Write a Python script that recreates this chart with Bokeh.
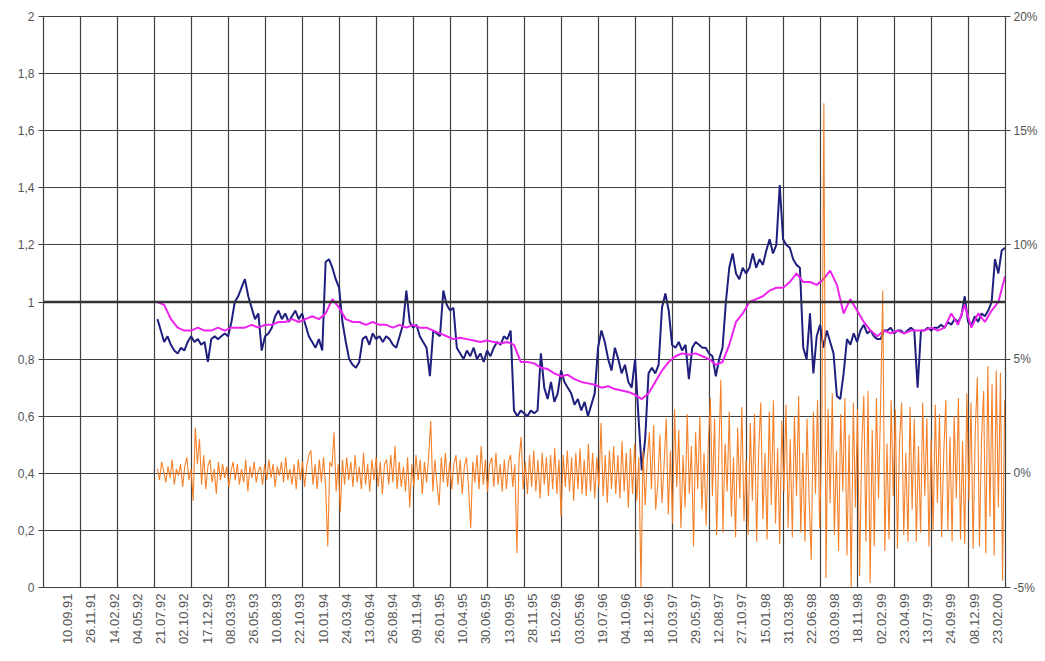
import numpy as np
from bokeh.plotting import figure
from bokeh.models import Range1d, LinearAxis, FixedTicker, Span
from bokeh.embed import file_html
from bokeh.resources import INLINE

# ---- data -------------------------------------------------------------
date_labels = ["10.09.91", "26.11.91", "14.02.92", "04.05.92", "21.07.92", "02.10.92",
               "17.12.92", "08.03.93", "26.05.93", "10.08.93", "22.10.93", "10.01.94",
               "24.03.94", "13.06.94", "26.08.94", "09.11.94", "26.01.95", "10.04.95",
               "30.06.95", "13.09.95", "28.11.95", "15.02.96", "03.05.96", "19.07.96",
               "04.10.96", "18.12.96", "10.03.97", "29.05.97", "12.08.97", "27.10.97",
               "15.01.98", "31.03.98", "22.06.98", "03.09.98", "18.11.98", "02.02.99",
               "23.04.99", "13.07.99", "24.09.99", "08.12.99", "23.02.00"]

# ratio series (left axis), one value every 8 trading days
blue = [0.94, 0.90, 0.86, 0.88, 0.85, 0.83, 0.82, 0.84, 0.83, 0.86,
        0.88, 0.86, 0.87, 0.85, 0.86, 0.79, 0.87, 0.88, 0.87, 0.88,
        0.89, 0.88, 0.93, 1.00, 1.02, 1.05, 1.08, 1.02, 0.98, 0.94,
        0.96, 0.83, 0.88, 0.89, 0.91, 0.95, 0.97, 0.94, 0.96, 0.93,
        0.95, 0.97, 0.94, 0.96, 0.92, 0.88, 0.86, 0.84, 0.87, 0.83,
        1.14, 1.15, 1.12, 1.08, 1.05, 0.93, 0.86, 0.80, 0.78, 0.77,
        0.79, 0.87, 0.88, 0.85, 0.89, 0.87, 0.88, 0.86, 0.88, 0.87,
        0.85, 0.84, 0.88, 0.92, 1.04, 0.93, 0.91, 0.92, 0.88, 0.86,
        0.84, 0.74, 0.90, 0.89, 0.88, 1.04, 0.99, 0.97, 0.98, 0.84,
        0.82, 0.80, 0.83, 0.81, 0.84, 0.80, 0.82, 0.79, 0.83, 0.81,
        0.84, 0.86, 0.85, 0.88, 0.87, 0.90, 0.62, 0.60, 0.62, 0.61,
        0.60, 0.62, 0.61, 0.62, 0.82, 0.70, 0.66, 0.72, 0.65, 0.68,
        0.76, 0.72, 0.70, 0.68, 0.64, 0.66, 0.62, 0.65, 0.60, 0.64,
        0.68, 0.84, 0.90, 0.86, 0.80, 0.76, 0.84, 0.80, 0.75, 0.78,
        0.72, 0.70, 0.80, 0.60, 0.41, 0.52, 0.75, 0.77, 0.75, 0.78,
        0.98, 1.03, 0.97, 0.85, 0.84, 0.86, 0.83, 0.85, 0.73, 0.84,
        0.86, 0.85, 0.84, 0.84, 0.82, 0.81, 0.74, 0.80, 0.84, 1.00,
        1.12, 1.17, 1.10, 1.08, 1.12, 1.10, 1.12, 1.17, 1.12, 1.15,
        1.13, 1.18, 1.22, 1.17, 1.20, 1.41, 1.22, 1.20, 1.19, 1.15,
        1.13, 1.12, 0.84, 0.80, 0.96, 0.75, 0.88, 0.92, 0.84, 0.90,
        0.86, 0.82, 0.67, 0.66, 0.75, 0.87, 0.85, 0.89, 0.86, 0.90,
        0.92, 0.89, 0.90, 0.88, 0.87, 0.87, 0.90, 0.90, 0.91, 0.89,
        0.90, 0.90, 0.89, 0.90, 0.91, 0.90, 0.70, 0.90, 0.90, 0.91,
        0.90, 0.91, 0.91, 0.92, 0.91, 0.93, 0.92, 0.94, 0.93, 0.95,
        1.02, 0.93, 0.92, 0.95, 0.93, 0.96, 0.95, 0.97, 1.00, 1.15,
        1.10, 1.18, 1.19]

# smoothed series (left axis), one value every 16 trading days
magenta = [1.00, 0.99, 0.94, 0.91, 0.90, 0.90, 0.91, 0.90, 0.90, 0.91,
           0.90, 0.91, 0.91, 0.91, 0.92, 0.91, 0.92, 0.92, 0.93, 0.93,
           0.94, 0.93, 0.94, 0.95, 0.94, 0.96, 1.01, 0.98, 0.94, 0.93,
           0.93, 0.92, 0.93, 0.92, 0.92, 0.91, 0.92, 0.91, 0.92, 0.91,
           0.91, 0.90, 0.89, 0.88, 0.87, 0.875, 0.87, 0.865, 0.86, 0.865,
           0.86, 0.855, 0.86, 0.85, 0.79, 0.79, 0.785, 0.77, 0.765, 0.75,
           0.74, 0.745, 0.73, 0.72, 0.715, 0.71, 0.70, 0.705, 0.695, 0.69,
           0.685, 0.675, 0.66, 0.68, 0.72, 0.76, 0.79, 0.81, 0.82, 0.815,
           0.82, 0.81, 0.80, 0.78, 0.79, 0.85, 0.93, 0.96, 1.00, 1.01,
           1.02, 1.04, 1.05, 1.05, 1.07, 1.10, 1.07, 1.07, 1.06, 1.08,
           1.11, 1.06, 0.96, 1.01, 0.97, 0.93, 0.90, 0.88, 0.90, 0.89,
           0.90, 0.89, 0.90, 0.90, 0.90, 0.91, 0.90, 0.91, 0.96, 0.92,
           0.99, 0.91, 0.96, 0.93, 0.97, 1.00, 1.09]

# daily change in % (right axis), one value every 5 trading days
orange = [0.2, -0.3, 0.5, 0.1, -0.4, 0.3, -0.2, 0.6, -0.5, 0.2,
          -0.1, 0.4, -0.6, 0.3, 0.7, -0.3, 0.2, -1.2, 2.0, 0.4,
          1.5, -0.5, 0.8, -0.7, 0.3, 0.6, -0.4, 0.2, -0.9, 0.5,
          -0.3, 0.4, -0.2, 0.3, -0.6, 0.1, 0.5, -0.3, 0.4, -0.5,
          0.2, -0.4, 0.6, -0.8, 0.3, -0.2, 0.5, -0.4, 0.1, 0.3,
          -0.5, 0.4, -0.3, 0.6, -0.2, 0.4, -0.6, 0.3, -0.1, 0.5,
          -0.4, 0.7, -0.3, 0.2, -0.5, 0.4, -0.7, 0.6, -0.3, 0.5,
          -0.6, 0.3, 0.8, 1.0, -0.5, 0.4, -0.7, 0.6, -0.4, 0.7,
          -0.6, -3.2, 0.5, 0.3, 1.8, -0.8, 0.4, -1.7, 0.6, -0.5,
          0.7, -0.3, 0.5, -0.6, 0.8, -0.4, 0.3, -0.7, 0.9, -0.5,
          0.4, -0.8, 0.6, -0.3, 0.7, -0.6, 0.5, -0.9, 0.4, 0.6,
          -0.5, 0.8, -0.4, 1.2, -0.7, 0.5, -0.6, 0.3, -0.8, 0.7,
          -1.5, 0.4, -0.6, 0.8, -0.3, 0.6, -0.9, 0.5, -0.4, 0.7,
          2.3, -0.8, 0.6, -0.5, -1.4, 0.7, -0.4, 0.9, -0.6, 0.5,
          -0.7, 0.4, 0.8, -0.5, 0.6, -0.9, 0.3, 0.7, -0.6, -2.4,
          0.5, -0.4, 0.8, -0.7, 1.2, -0.5, 0.6, -0.8, 0.4, 0.7,
          -0.6, 0.9, -0.5, 0.4, -0.8, 0.6, -0.7, 0.5, 0.8, -0.6,
          0.4, -3.5, 0.6, 1.6, -0.7, 0.5, -0.9, 0.8, -0.6, 1.0,
          -0.8, 0.6, -1.1, 0.9, -0.5, 0.7, -1.0, 0.8, -0.7, 1.1,
          -0.9, 0.6, -1.9, 0.8, -0.6, 1.0, -0.8, 0.7, -1.2, 0.9,
          -0.7, 1.1, -0.9, 0.6, -1.0, 1.3, -0.8, 0.9, -1.1, 0.7,
          -0.6, 2.2, -1.0, 0.8, -1.3, 1.0, -0.7, 1.2, -0.9, 0.8,
          -1.1, 1.4, -0.8, 0.9, -1.5, 1.1, -0.9, 1.3, -1.2, 0.7,
          -5.0, 1.0, -1.4, 0.6, 1.8, -0.7, 2.1, -1.6, -0.5, 1.7,
          -1.3, 0.4, 2.4, -1.8, 1.0, -2.2, 2.8, -0.6, 1.9, -2.4,
          0.8, -1.5, 2.6, -0.9, 1.2, -3.2, 1.8, -0.7, 2.5, -1.6,
          0.9, -2.3, 1.2, 3.3, -1.0, 2.4, -2.7, 0.8, 4.1, -2.6,
          1.3, -0.8, 2.7, -1.9, 0.7, -2.8, 2.0, -1.1, 2.9, -2.1,
          0.6, -2.7, 2.2, -1.2, 2.6, -3.0, 1.0, 3.1, -2.0, 0.9,
          -2.9, 2.7, -1.4, 3.2, -2.2, 1.1, -3.1, 2.3, -0.8, 3.0,
          -2.4, 1.5, -2.8, 2.5, -1.0, 3.4, -2.6, 0.9, -3.0, 2.4,
          -1.2, -3.8, 2.7, -0.9, 3.2, -2.4, 1.4, 16.2, -4.6, 2.8,
          -1.3, 3.5, -2.7, 1.0, -3.4, 2.6, -0.8, 3.3, -3.6, 1.7,
          -5.0, 3.1, -1.5, 2.8, -4.5, 1.2, 3.4, -3.0, 3.6, -4.8,
          1.9, -3.2, 3.3, -1.1, 3.0, 8.0, -3.4, 1.3, -2.9, 3.2,
          -1.0, 2.8, -3.3, 1.4, 3.1, -2.7, 0.9, -3.0, 2.9, -1.6,
          2.4, -3.0, 1.2, -2.6, 3.1, -1.0, 2.4, -3.2, 1.5, -2.5,
          3.0, -1.3, 2.6, -2.8, 0.8, 3.2, -2.5, 1.6, -3.0, 2.5,
          -1.1, 3.3, -2.9, 1.4, -3.1, 3.5, -1.2, 3.1, -3.3, 1.8,
          4.2, -3.2, 1.5, 3.6, -3.5, 4.7, -1.9, 3.9, -3.6, 4.5,
          -1.5, 4.4, -4.7, 3.2]

y_ticks = [0, 0.2, 0.4, 0.6, 0.8, 1, 1.2, 1.4, 1.6, 1.8, 2]
y_tick_labels = ["0", "0,2", "0,4", "0,6", "0,8", "1", "1,2", "1,4", "1,6", "1,8", "2"]
pct_ticks = [-5, 0, 5, 10, 15, 20]
pct_tick_labels = ["-5%", "0%", "5%", "10%", "15%", "20%"]

# ---- positions on the trading-day axis ---------------------------------
N_DAYS = 2288
START = 271
blue_x = START + 8 * np.arange(len(blue))
orange_x = START + 5 * np.arange(len(orange))
magenta_x = START + 16 * np.arange(len(magenta))
label_pos = [int(round(57 + 55.3 * i)) for i in range(len(date_labels))]
grid_pos = list(range(0, N_DAYS + 1, 88))

FONT = "Liberation Sans"
GRID = "#404040"

p = figure(frame_width=962, frame_height=571,
           x_range=Range1d(0, N_DAYS), y_range=Range1d(0, 2),
           output_backend="svg", toolbar_location=None,
           min_border_left=43, min_border_right=38,
           min_border_top=16, min_border_bottom=66,
           background_fill_color="white", border_fill_color="white")
p.extra_y_ranges = {"pct": Range1d(-5, 20)}
p.outline_line_color = GRID
p.outline_line_width = 1

# grids
p.xgrid.ticker = FixedTicker(ticks=grid_pos)
p.ygrid.ticker = FixedTicker(ticks=y_ticks)
for g in (p.xgrid, p.ygrid):
    g.grid_line_color = GRID
    g.grid_line_width = 1.2
p.add_layout(Span(location=1.0, dimension="width", line_color="#333333", line_width=2.4))

# left axis
ya = p.yaxis[0]
ya.ticker = FixedTicker(ticks=y_ticks)
ya.major_label_overrides = {t: l for t, l in zip(y_ticks, y_tick_labels)}
# bottom axis
xa = p.xaxis[0]
xa.ticker = FixedTicker(ticks=label_pos)
xa.major_label_overrides = {t: l for t, l in zip(label_pos, date_labels)}
xa.major_label_orientation = np.pi / 2
xa.major_tick_out = 0
xa.major_tick_in = 0
xa.major_label_standoff = 6
# right axis
ra = LinearAxis(y_range_name="pct", ticker=FixedTicker(ticks=pct_ticks))
ra.major_label_overrides = {t: l for t, l in zip(pct_ticks, pct_tick_labels)}
p.add_layout(ra, "right")

for ax in (ya, xa, ra):
    ax.axis_line_color = GRID
    ax.axis_line_width = 1.2
    ax.major_tick_line_color = GRID
    ax.minor_tick_line_color = None
    ax.major_label_text_font = FONT
    ax.major_label_text_font_size = "12px"
    ax.major_label_text_color = "#555555"
xa.major_label_text_font_size = "13px"
ya.major_tick_out = 5
ya.major_tick_in = 0
ya.major_label_standoff = 4
ra.major_tick_out = 5
ra.major_tick_in = 0
ra.major_label_standoff = 3

# series
p.line(blue_x, blue, line_color="#1f1f7d", line_width=2)
p.line(magenta_x, magenta, line_color="#ee22ee", line_width=2)
p.line(orange_x, orange, y_range_name="pct", line_color="#f47b20", line_width=1.1, line_alpha=0.95)

open("out.html", "w").write(file_html(p, INLINE))
